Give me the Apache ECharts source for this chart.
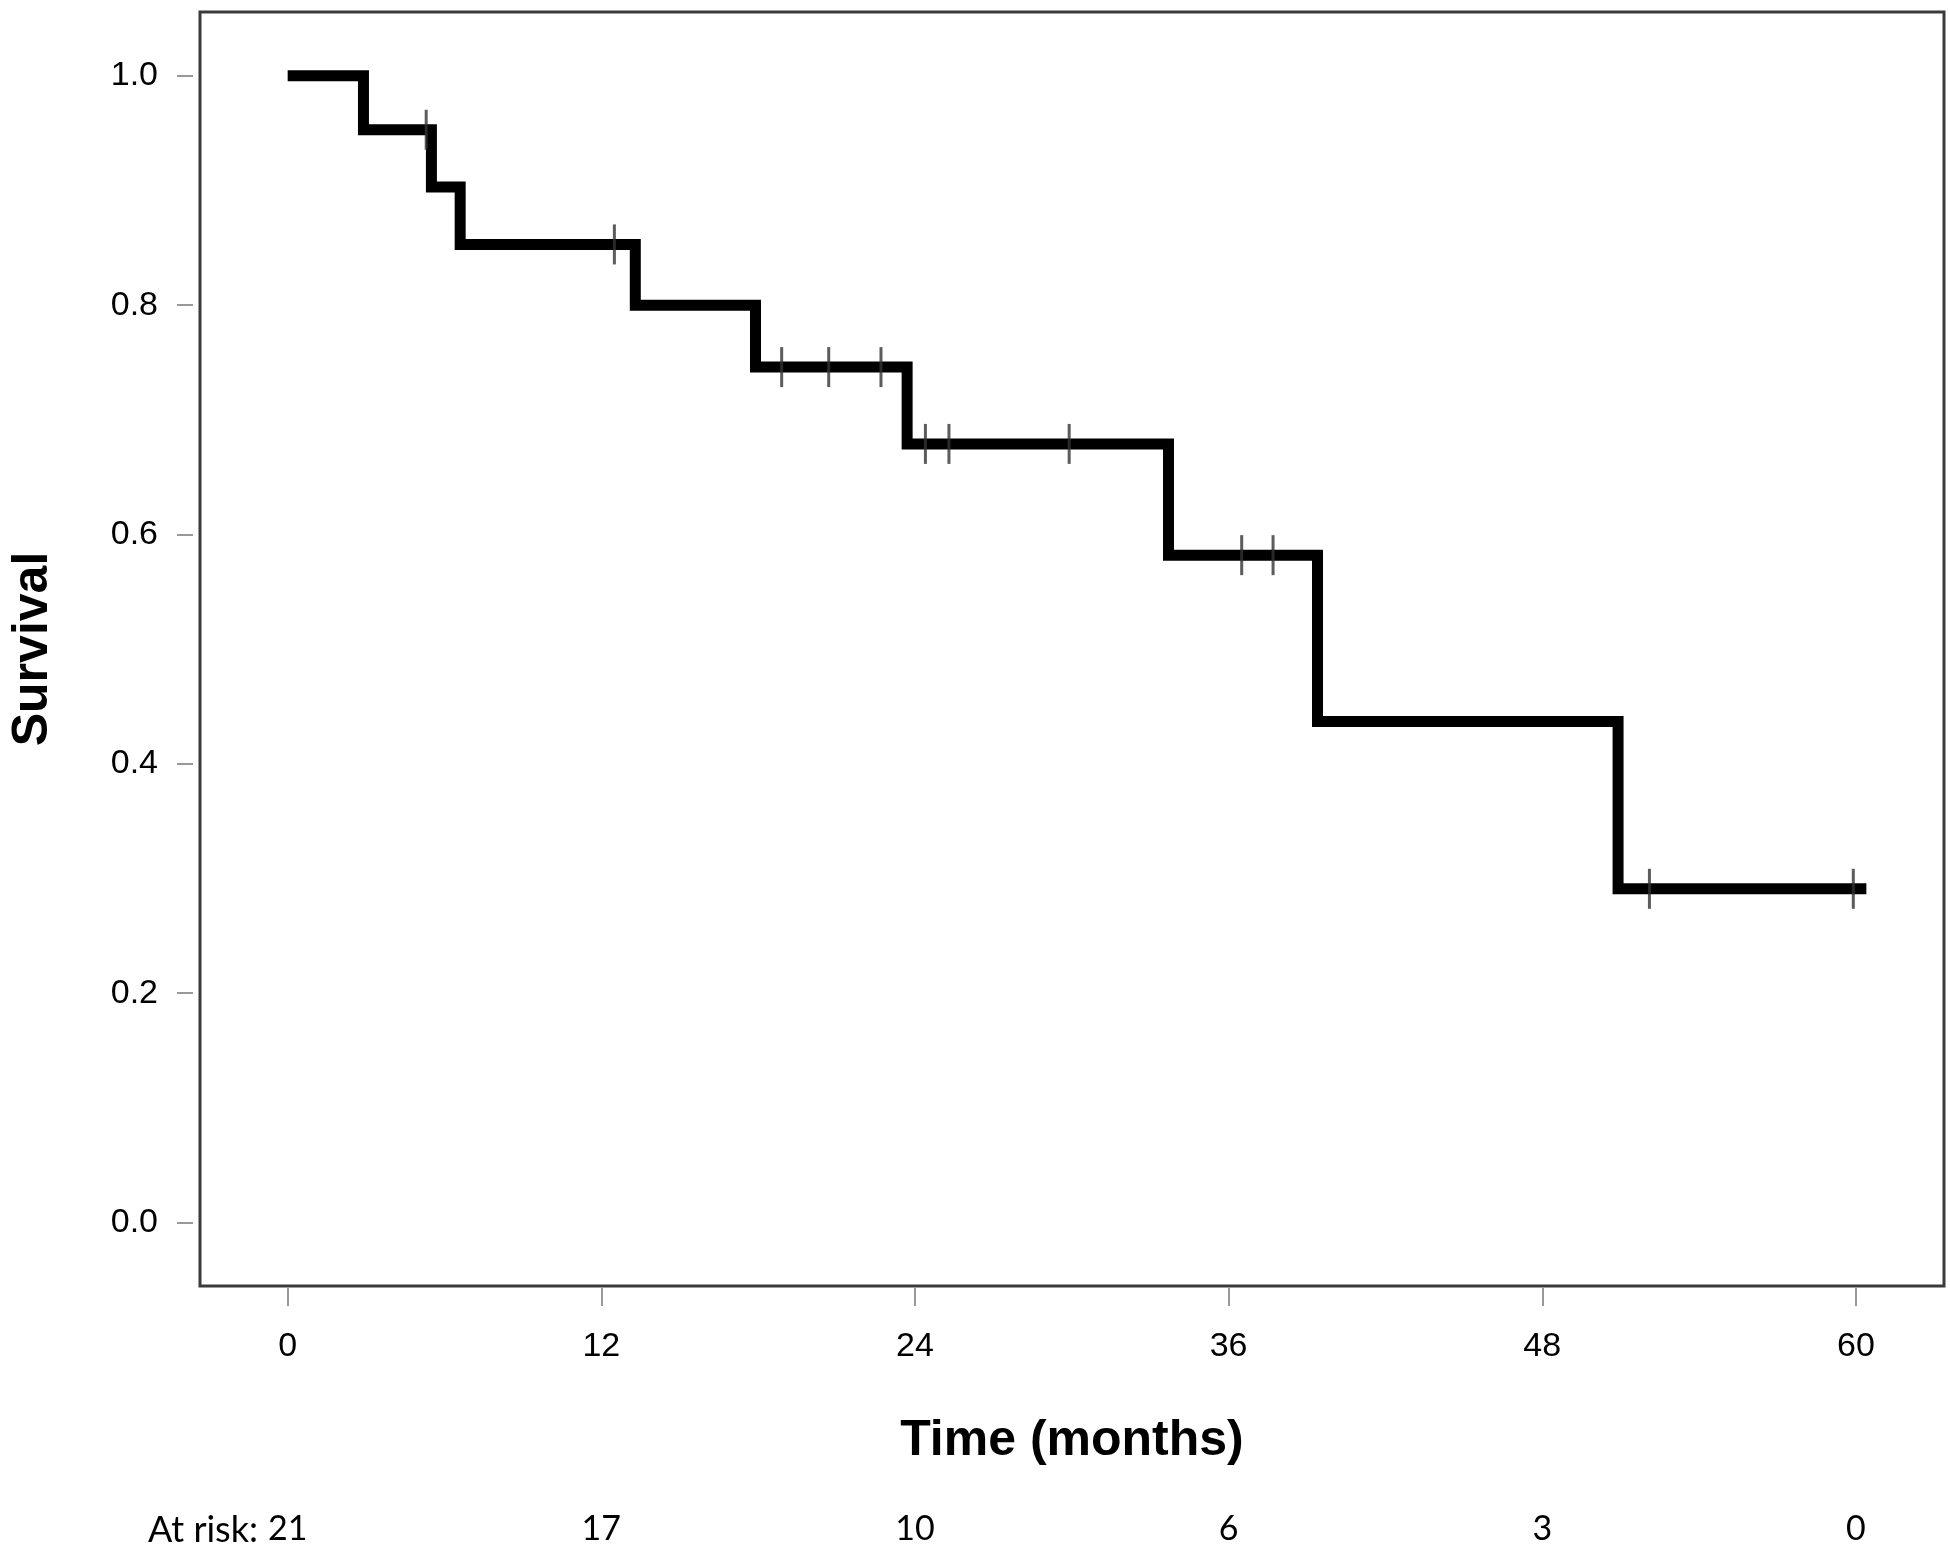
<!DOCTYPE html>
<html>
<head>
<meta charset="utf-8">
<script src="https://cdn.jsdelivr.net/npm/echarts@6/dist/echarts.min.js"></script>
<style>
  html, body { margin: 0; padding: 0; background: #fff; }
  #chart { width: 1950px; height: 1555px; }
</style>
</head>
<body>
<div id="chart"></div>
<script>
// Kaplan-Meier steps: time where survival drops, and the level after the drop
const eventTimes = [0, 2.9, 5.5, 6.6, 13.3, 17.9, 23.7, 33.7, 39.4, 50.9, 60.4];
const survival = [1.0, 0.953, 0.903, 0.853, 0.80, 0.746, 0.679, 0.582, 0.437, 0.291, 0.291];

// censored observations (tick marks)
const censorTimes = [5.3, 12.5, 18.9, 20.7, 22.7, 24.4, 25.3, 29.9, 36.5, 37.7, 52.1, 59.9];
const censorSurv = [0.953, 0.853, 0.746, 0.746, 0.746, 0.679, 0.679, 0.679, 0.582, 0.582, 0.291, 0.291];

const xTicks = [0, 12, 24, 36, 48, 60];
const yTicks = [0, 0.2, 0.4, 0.6, 0.8, 1.0];
const atRisk = [21, 17, 10, 6, 3, 0];

const chart = echarts.init(document.getElementById('chart'));

const option = {
  animation: false,
  backgroundColor: '#fff',
  grid: {
    left: 197,
    right: 6,
    top: 12,
    bottom: 269,
    show: true,
    borderColor: '#3a3a3a',
    borderWidth: 3,
  },
  graphic: [
    {
      type: 'text',
      x: 258,
      y: 1530,
      style: {
        text: 'At risk:',
        font: '36px Lato',
        fill: '#000',
        align: 'right',
        verticalAlign: 'middle',
      },
    },
  ],
  xAxis: [
    {
      type: 'value',
      min: -3.354,
      max: 63.37,
      offset: 2,
      splitLine: { show: false },
      axisLine: { show: false, onZero: false },
      axisTick: {
        show: true,
        length: 18,
        customValues: xTicks,
        lineStyle: { color: '#999', width: 2 },
      },
      axisLabel: {
        customValues: xTicks,
        margin: 42,
        color: '#000',
        fontSize: 34,
        fontFamily: 'Liberation Sans, Arial, sans-serif',
      },
      name: 'Time (months)',
      nameLocation: 'middle',
      nameGap: 128,
      nameTextStyle: {
        color: '#000',
        fontSize: 50,
        fontWeight: 'bold',
        fontFamily: 'Liberation Sans, Arial, sans-serif',
      },
    },
    {
      type: 'value',
      min: -3.354,
      max: 63.37,
      position: 'bottom',
      splitLine: { show: false },
      axisLine: { show: false, onZero: false },
      axisTick: { show: false },
      axisLabel: {
        customValues: xTicks,
        margin: 226,
        color: '#000',
        fontSize: 34,
        fontFamily: 'Lato, sans-serif',
        formatter: (value) => {
          const i = xTicks.indexOf(value);
          return i >= 0 ? String(atRisk[i]) : '';
        },
      },
    },
  ],
  yAxis: {
    type: 'value',
    min: -0.0554,
    max: 1.0557,
    offset: 7,
    splitLine: { show: false },
    axisLine: { show: false, onZero: false },
    axisTick: {
      show: true,
      length: 16,
      customValues: yTicks,
      lineStyle: { color: '#999', width: 2 },
    },
    axisLabel: {
      customValues: yTicks,
      margin: 35,
      color: '#000',
      fontSize: 34,
      fontFamily: 'Liberation Sans, Arial, sans-serif',
      formatter: (value) => value.toFixed(1),
    },
    name: 'Survival',
    nameLocation: 'middle',
    nameGap: 135,
    nameRotate: 90,
    nameTextStyle: {
      color: '#000',
      fontSize: 50,
      fontWeight: 'bold',
      fontFamily: 'Liberation Sans, Arial, sans-serif',
    },
  },
  series: [
    {
      type: 'line',
      step: 'end',
      xAxisIndex: 0,
      data: eventTimes.map((t, i) => [t, survival[i]]),
      showSymbol: false,
      lineStyle: { color: '#000', width: 11, cap: 'butt', join: 'miter' },
      z: 2,
    },
    {
      type: 'scatter',
      xAxisIndex: 0,
      data: censorTimes.map((t, i) => [t, censorSurv[i]]),
      symbol: 'rect',
      symbolSize: [3, 40],
      itemStyle: { color: '#333' },
      z: 3,
    },
  ],
};

chart.setOption(option);
</script>
</body>
</html>
